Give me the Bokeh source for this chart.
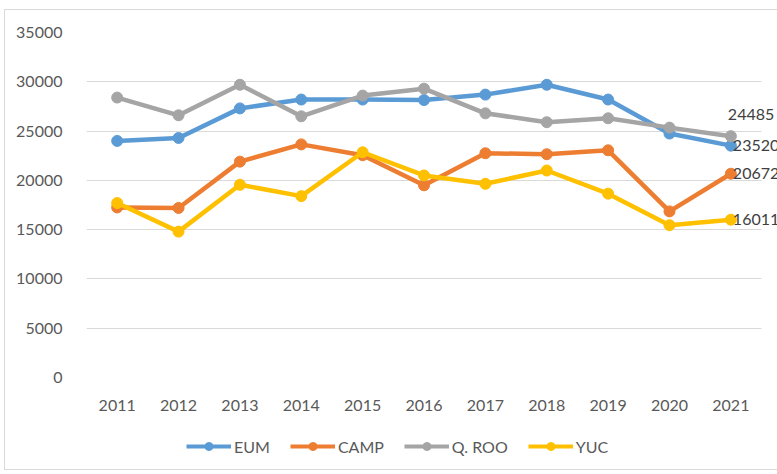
from bokeh.plotting import figure
from bokeh.layouts import column
from bokeh.models import (ColumnDataSource, Range1d, FixedTicker,
                          Legend, LegendItem, LabelSet, InlineStyleSheet)
from bokeh.core.properties import value
from bokeh.embed import file_html
from bokeh.resources import INLINE

years = ["2011", "2012", "2013", "2014", "2015", "2016", "2017", "2018", "2019", "2020", "2021"]
series_names = ["EUM", "CAMP", "Q. ROO", "YUC"]
eum = [24000, 24300, 27300, 28200, 28200, 28150, 28700, 29700, 28200, 24750, 23520]
camp = [17250, 17200, 21900, 23650, 22550, 19500, 22750, 22650, 23050, 16850, 20672]
qroo = [28400, 26600, 29700, 26500, 28600, 29300, 26800, 25900, 26300, 25350, 24485]
yuc = [17700, 14800, 19550, 18400, 22850, 20500, 19650, 21000, 18650, 15450, 16011]
y_ticks = [0, 5000, 10000, 15000, 20000, 25000, 30000, 35000]

colors = ["#5B9BD5", "#ED7D31", "#A5A5A5", "#FFC000"]
FONT = "Lato"
TXT = "#595959"

idx = list(range(len(years)))
n = len(years)
# category slots span -0.5 .. n-0.5; a little extra room on the right for the data labels
x_lo, x_hi = -0.5, n - 0.5
x_extra = 0.26

p = figure(width=777, height=430, x_range=Range1d(x_lo, x_hi + x_extra),
           y_range=Range1d(0, 35000), output_backend="svg", toolbar_location=None,
           min_border_left=86, min_border_top=32, min_border_right=0, min_border_bottom=53)
p.outline_line_color = None
p.background_fill_color = None
p.border_fill_color = None

p.xgrid.grid_line_color = None
p.ygrid.grid_line_color = "#D9D9D9"
p.ygrid.grid_line_width = 1
p.ygrid.cross_bounds = (x_lo, x_hi)

p.yaxis.ticker = FixedTicker(ticks=y_ticks)
p.xaxis.ticker = FixedTicker(ticks=idx)
p.xaxis.major_label_overrides = {i: y for i, y in zip(idx, years)}
for ax in (p.xaxis[0], p.yaxis[0]):
    ax.axis_line_color = None
    ax.major_tick_line_color = None
    ax.minor_tick_line_color = None
    ax.major_label_text_font = FONT
    ax.major_label_text_font_size = "16px"
    ax.major_label_text_color = TXT
p.yaxis.major_label_standoff = 18
p.xaxis.major_label_standoff = 16

all_series = [eum, camp, qroo, yuc]
sources = []
for name, vals, col in zip(series_names, all_series, colors):
    src = ColumnDataSource(dict(x=idx, y=vals))
    sources.append(src)
    p.line("x", "y", source=src, line_color=col, line_width=4.5)
    p.scatter("x", "y", source=src, size=11, fill_color=col, line_color=col)

# data labels for final year
last_vals = [s[-1] for s in all_series]
lab_src = ColumnDataSource(dict(
    x=[idx[-1]] * 4,
    y=last_vals,
    text=[str(v) for v in last_vals],
    xo=[2, 2, -3, 2],
    yo=[0, 0, 22, 0],
))
labels = LabelSet(x="x", y="y", text="text", source=lab_src, x_offset="xo", y_offset="yo",
                  text_font=value(FONT), text_font_size=value("16px"), text_color="#404040",
                  text_baseline="middle", text_align="left")
p.add_layout(labels)

# legend strip (its renderers reuse the series data, which lies outside this strip's ranges)
lg = figure(width=777, height=44, x_range=Range1d(-3, -2), y_range=Range1d(-3, -2),
            output_backend="svg", toolbar_location=None, min_border=0,
            x_axis_location=None, y_axis_location=None)
lg.outline_line_color = None
lg.background_fill_color = None
lg.border_fill_color = None
lg.xgrid.visible = False
lg.ygrid.visible = False
items = []
for name, col, src in zip(series_names, colors, sources):
    r1 = lg.line("x", "y", source=src, line_color=col, line_width=4)
    r2 = lg.scatter("x", "y", source=src, size=10, fill_color=col, line_color=col)
    items.append(LegendItem(label=name, renderers=[r1, r2]))
legend = Legend(items=items, orientation="horizontal", location=(100, 18),
                border_line_color=None, background_fill_alpha=0,
                label_text_font=FONT, label_text_font_size="16px", label_text_color=TXT,
                glyph_width=45, glyph_height=20, label_standoff=3, spacing=20,
                padding=0, margin=0)
lg.add_layout(legend, "center")

frame_css = InlineStyleSheet(css="""
:host { position: relative; background: white; }
:host::after { content: ''; position: absolute; left: 4px; top: 9px; right: 0px; bottom: 4px;
  border: 1px solid #D9D9D9; border-right: none; pointer-events: none; }
""")
layout = column(p, lg, spacing=0, stylesheets=[frame_css])
open("out.html", "w").write(file_html(layout, INLINE))
